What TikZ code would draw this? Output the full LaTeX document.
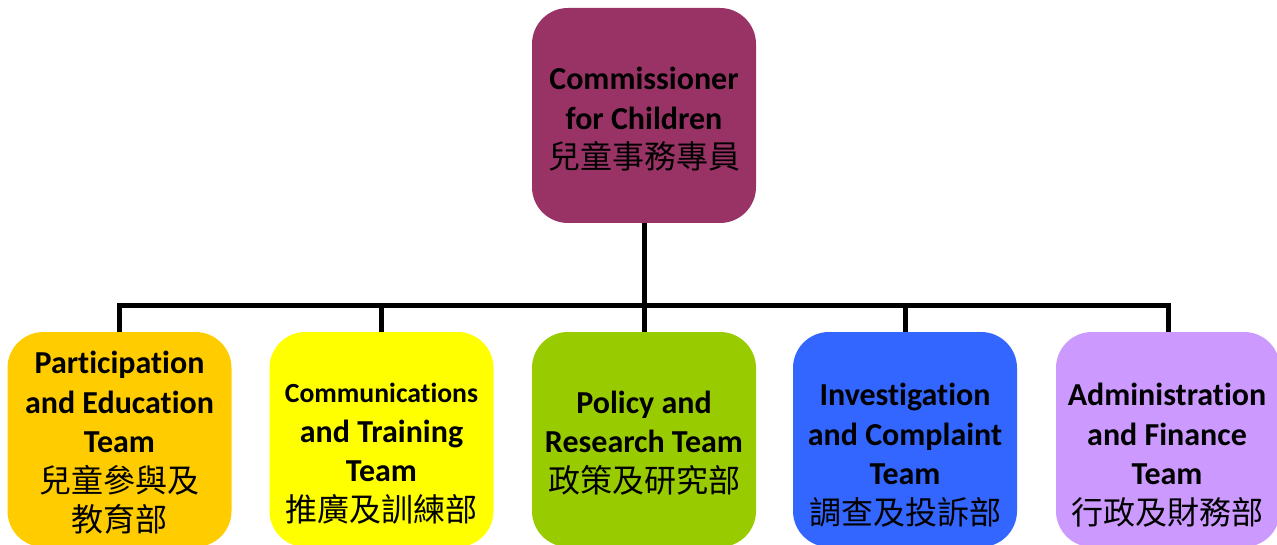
\documentclass[tikz,border=0pt]{standalone}
\usepackage{fontspec}
\setmainfont{Carlito}[Ligatures={NoCommon,NoContextual,NoRequired}]
\newfontfamily\cjk{Noto Sans CJK TC}
\definecolor{commish}{HTML}{993366}
\definecolor{pecol}{HTML}{FFCC00}
\definecolor{ctcol}{HTML}{FFFF00}
\definecolor{prcol}{HTML}{99CC00}
\definecolor{iccol}{HTML}{3366FF}
\definecolor{afcol}{HTML}{CC99FF}
\begin{document}
\begin{tikzpicture}[x=1pt,y=-1pt,
  unit/.style={rounded corners=36pt, minimum width=224pt, minimum height=215pt, inner sep=0pt, draw=none},
  teamtext/.style={align=center, font=\fontsize{32}{39.5}\selectfont\bfseries, inner sep=0pt},
  wire/.style={line width=5pt, draw=black}]
\useasboundingbox (0,0) rectangle (1277,545);

% boxes
\node[unit, fill=commish] (top) at (644,115.5) {};
\node[unit, fill=pecol] (pe) at (119.5,439.5) {};
\node[unit, fill=ctcol] (ct) at (381.5,439.5) {};
\node[unit, fill=prcol] (pr) at (644,439.5) {};
\node[unit, fill=iccol] (ic) at (905,439.5) {};
\node[unit, fill=afcol] (af) at (1168,439.5) {};

% connectors
\coordinate (bus) at (644,306);
\draw[wire] (top.south) -- (bus);
\draw[wire] (pe.north) -- (pe.north |- bus) -- (af.north |- bus) -- (af.north);
\draw[wire] (ct.north |- bus) -- (ct.north);
\draw[wire] (bus) -- (pr.north);
\draw[wire] (ic.north |- bus) -- (ic.north);

% labels
\node[teamtext] (topT) at (644,119.5) {Commissioner\\for Children\\{\cjk\mdseries 兒童事務專員}};
\node[teamtext] (peT) at (119.5,443) {Participation\\and Education\\Team\\{\cjk\mdseries 兒童參與及}\\{\cjk\mdseries 教育部}};
\node[teamtext] (ctT) at (381.5,453.5) {{\fontsize{27.7}{39}\selectfont Communications}\\and Training\\Team\\{\cjk\mdseries 推廣及訓練部}};
\node[teamtext] (prT) at (644,443) {Policy and\\Research Team\\{\cjk\mdseries 政策及研究部}};
\node[teamtext] (icT) at (905,455) {Investigation\\and Complaint\\Team\\{\cjk\mdseries 調查及投訴部}};
\node[teamtext] (afT) at (1167,455) {Administration\\and Finance\\Team\\{\cjk\mdseries 行政及財務部}};
\end{tikzpicture}
\end{document}
